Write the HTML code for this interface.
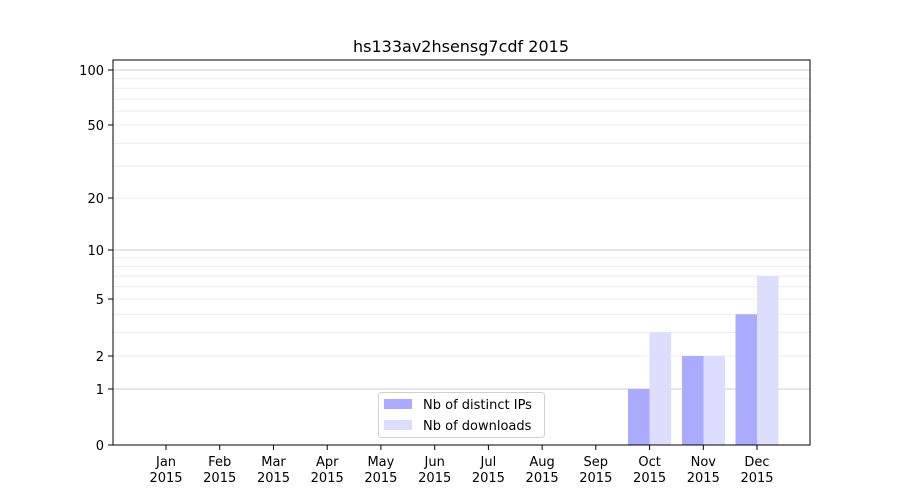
<!DOCTYPE html>
<html><head><style>
body{margin:0;background:#fff;}
svg{display:block;font-family:"DejaVu Sans","Liberation Sans",sans-serif;}
</style></head><body>
<svg width="900" height="500" xmlns="http://www.w3.org/2000/svg">
<rect width="900" height="500" fill="#fff"/>
<text x="461" y="52" font-size="16" text-anchor="middle" fill="#000">hs133av2hsensg7cdf 2015</text>
<g stroke="#ececec" stroke-width="1">
<line x1="113" x2="810" y1="332.4" y2="332.4"/>
<line x1="113" x2="810" y1="314.3" y2="314.3"/>
<line x1="113" x2="810" y1="286.8" y2="286.8"/>
<line x1="113" x2="810" y1="276.1" y2="276.1"/>
<line x1="113" x2="810" y1="266.6" y2="266.6"/>
<line x1="113" x2="810" y1="258.0" y2="258.0"/>
<line x1="113" x2="810" y1="166.1" y2="166.1"/>
<line x1="113" x2="810" y1="143.4" y2="143.4"/>
<line x1="113" x2="810" y1="111.1" y2="111.1"/>
<line x1="113" x2="810" y1="99.1" y2="99.1"/>
<line x1="113" x2="810" y1="88.3" y2="88.3"/>
<line x1="113" x2="810" y1="78.7" y2="78.7"/>
<line x1="113" x2="810" y1="356" y2="356"/>
<line x1="113" x2="810" y1="299" y2="299"/>
<line x1="113" x2="810" y1="198" y2="198"/>
<line x1="113" x2="810" y1="125" y2="125"/>
</g>
<g stroke="#cccccc" stroke-width="1">
<line x1="113" x2="810" y1="389" y2="389"/>
<line x1="113" x2="810" y1="250" y2="250"/>
<line x1="113" x2="810" y1="70" y2="70"/>
</g>
<g>
<rect x="628" y="389" width="21.5" height="56" fill="#aaaaff"/>
<rect x="649.5" y="332.4" width="21.5" height="112.6" fill="#ddddfd"/>
<rect x="682" y="356" width="21.5" height="89" fill="#aaaaff"/>
<rect x="703.5" y="356" width="21.5" height="89" fill="#ddddfd"/>
<rect x="735.5" y="314.3" width="21.5" height="130.7" fill="#aaaaff"/>
<rect x="757" y="276.1" width="21.5" height="168.9" fill="#ddddfd"/>
</g>
<rect x="113" y="60" width="697" height="385" fill="none" stroke="#000" stroke-width="1"/>
<g stroke="#000">
<line x1="108" x2="113" y1="445" y2="445"/>
<line x1="108" x2="113" y1="389" y2="389"/>
<line x1="108" x2="113" y1="356" y2="356"/>
<line x1="108" x2="113" y1="299" y2="299"/>
<line x1="108" x2="113" y1="250" y2="250"/>
<line x1="108" x2="113" y1="198" y2="198"/>
<line x1="108" x2="113" y1="125" y2="125"/>
<line x1="108" x2="113" y1="70" y2="70"/>
</g>
<g font-size="13" text-anchor="end" fill="#000">
<text x="104" y="450">0</text>
<text x="104" y="394">1</text>
<text x="104" y="361">2</text>
<text x="104" y="304">5</text>
<text x="104" y="255">10</text>
<text x="104" y="203">20</text>
<text x="104" y="130">50</text>
<text x="104" y="75">100</text>
</g>
<g font-size="13" text-anchor="middle" fill="#000" id="xl">
<g transform="translate(166,0)"><line y1="445" y2="450" stroke="#000"/><text y="466">Jan</text><text y="482">2015</text></g>
<g transform="translate(219.7,0)"><line y1="445" y2="450" stroke="#000"/><text y="466">Feb</text><text y="482">2015</text></g>
<g transform="translate(273.5,0)"><line y1="445" y2="450" stroke="#000"/><text y="466">Mar</text><text y="482">2015</text></g>
<g transform="translate(327.2,0)"><line y1="445" y2="450" stroke="#000"/><text y="466">Apr</text><text y="482">2015</text></g>
<g transform="translate(380.9,0)"><line y1="445" y2="450" stroke="#000"/><text y="466">May</text><text y="482">2015</text></g>
<g transform="translate(434.7,0)"><line y1="445" y2="450" stroke="#000"/><text y="466">Jun</text><text y="482">2015</text></g>
<g transform="translate(488.4,0)"><line y1="445" y2="450" stroke="#000"/><text y="466">Jul</text><text y="482">2015</text></g>
<g transform="translate(542.1,0)"><line y1="445" y2="450" stroke="#000"/><text y="466">Aug</text><text y="482">2015</text></g>
<g transform="translate(595.8,0)"><line y1="445" y2="450" stroke="#000"/><text y="466">Sep</text><text y="482">2015</text></g>
<g transform="translate(649.6,0)"><line y1="445" y2="450" stroke="#000"/><text y="466">Oct</text><text y="482">2015</text></g>
<g transform="translate(703.3,0)"><line y1="445" y2="450" stroke="#000"/><text y="466">Nov</text><text y="482">2015</text></g>
<g transform="translate(757,0)"><line y1="445" y2="450" stroke="#000"/><text y="466">Dec</text><text y="482">2015</text></g>
</g>
<rect x="378.5" y="392.5" width="166" height="45" rx="3" fill="#fff" fill-opacity="0.8" stroke="#d0d0d0"/>
<rect x="384" y="399" width="28" height="10" fill="#aaaaff"/>
<rect x="384" y="420" width="28" height="10" fill="#ddddfd"/>
<g font-size="13" fill="#000">
<text x="423" y="409">Nb of distinct IPs</text>
<text x="423" y="430">Nb of downloads</text>
</g>
</svg>
</body></html>
